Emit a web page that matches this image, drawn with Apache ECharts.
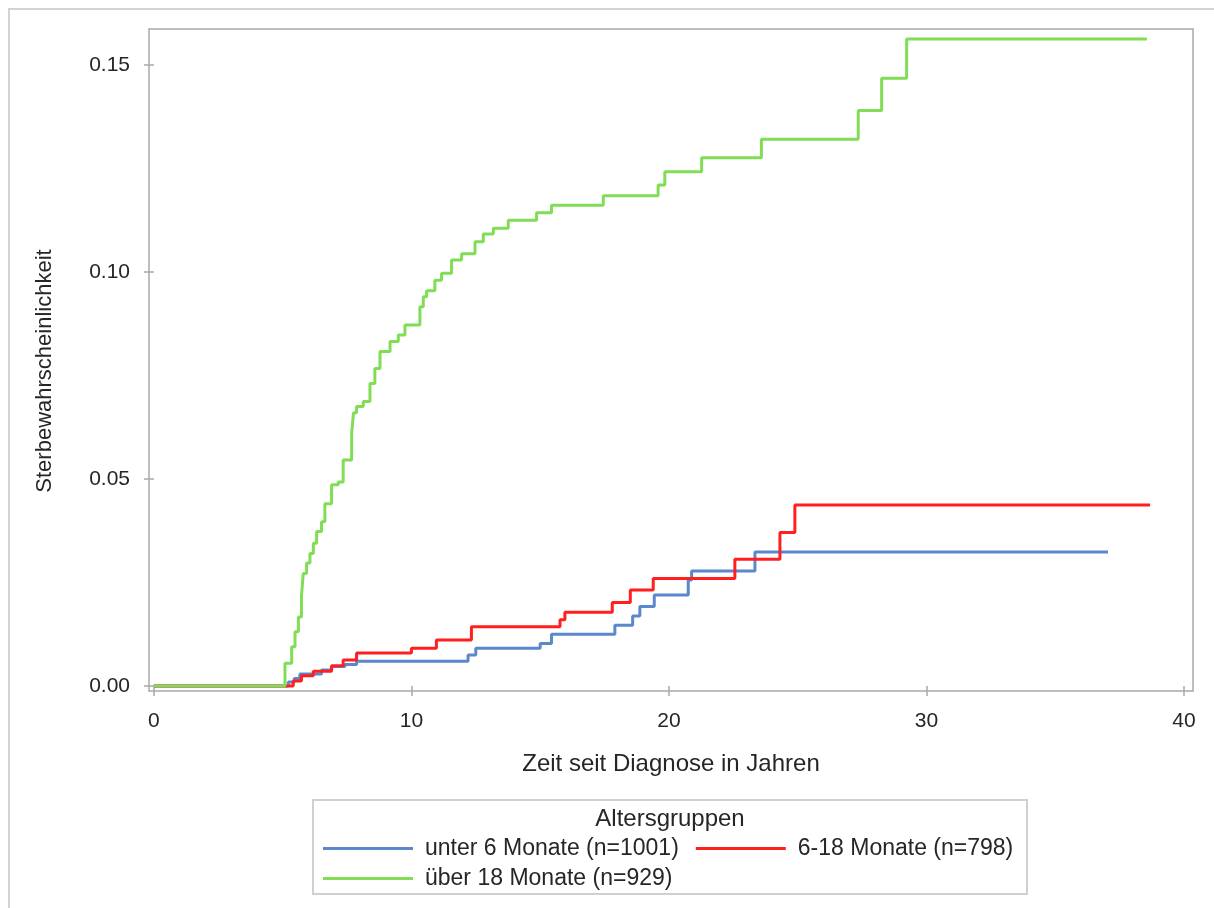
<!DOCTYPE html>
<html>
<head>
<meta charset="utf-8">
<script src="https://cdn.jsdelivr.net/npm/echarts@6/dist/echarts.min.js"></script>
<style>
  html, body { margin: 0; padding: 0; background: #fff; }
  #chart { width: 1214px; height: 908px; }
</style>
</head>
<body>
<div id="chart"></div>
<script>
// Cumulative death probability by age group, [years since diagnosis, probability]
const groupNames = ['unter 6 Monate (n=1001)', '6-18 Monate (n=798)', 'über 18 Monate (n=929)'];

const under6 = [
  [0, 0], [5.22, 0.001], [5.45, 0.0018], [5.67, 0.0029], [6.51, 0.0039],
  [6.9, 0.0047], [7.42, 0.0052], [7.87, 0.006], [12.2, 0.0075], [12.5, 0.0091],
  [15.0, 0.0103], [15.44, 0.0125], [17.9, 0.0147], [18.59, 0.0169], [18.87, 0.0192],
  [19.43, 0.022], [20.75, 0.0256], [20.88, 0.0278], [23.34, 0.0324], [37.05, 0.0324]
];

const from6to18 = [
  [0, 0], [5.41, 0.0012], [5.73, 0.0025], [6.19, 0.0036], [6.9, 0.0049],
  [7.35, 0.0063], [7.87, 0.008], [10.0, 0.0091], [10.97, 0.0111], [12.33, 0.0143],
  [15.77, 0.016], [15.96, 0.0178], [17.8, 0.0202], [18.5, 0.0232], [19.39, 0.026],
  [22.56, 0.0306], [24.31, 0.0371], [24.89, 0.0437], [38.68, 0.0437]
];

const over18 = [
  [0, 0], [5.09, 0.0055], [5.35, 0.0095], [5.48, 0.0131], [5.61, 0.0167],
  [5.73, 0.0216], [5.8, 0.0272], [5.93, 0.0297], [6.06, 0.032], [6.19, 0.0345],
  [6.32, 0.0373], [6.51, 0.0397], [6.64, 0.044], [6.9, 0.0486], [7.16, 0.0493],
  [7.35, 0.0546], [7.68, 0.061], [7.75, 0.066], [7.87, 0.0675], [8.13, 0.0687],
  [8.39, 0.0731], [8.58, 0.0767], [8.78, 0.0808], [9.17, 0.0832], [9.49, 0.0848],
  [9.75, 0.0872], [10.33, 0.0916], [10.46, 0.094], [10.59, 0.0955], [10.91, 0.098],
  [11.17, 0.0997], [11.56, 0.1029], [11.95, 0.1044], [12.47, 0.1073], [12.79, 0.1092],
  [13.18, 0.1106], [13.76, 0.1125], [14.86, 0.1143], [15.44, 0.1161], [17.45, 0.1184],
  [19.58, 0.121], [19.84, 0.1242], [21.27, 0.1276], [23.59, 0.1321], [27.35, 0.139],
  [28.26, 0.1468], [29.23, 0.1563], [38.56, 0.1563]
];

const xTicks = [0, 10, 20, 30, 40];
const yTicks = [0, 0.05, 0.10, 0.15];

const FONT = '"Liberation Sans", Arial, sans-serif';
const TEXT = '#262626';
const FRAME = '#a6aaaf';
const colors = ['#5a88cc', '#ff1f1f', '#80dd55'];

const chart = echarts.init(document.getElementById('chart'), null, { renderer: 'canvas' });

function stepSeries(name, data, color) {
  return {
    name: name,
    type: 'line',
    step: 'end',
    data: data,
    showSymbol: false,
    symbol: 'none',
    silent: true,
    lineStyle: { color: color, width: 3 },
    itemStyle: { color: color },
    animation: false
  };
}

const legendCommon = {
  orient: 'horizontal',
  icon: 'rect',
  itemWidth: 90,
  itemHeight: 3,
  itemGap: 17,
  selectedMode: false,
  padding: 0,
  textStyle: { fontFamily: FONT, fontSize: 23, color: TEXT, padding: [0, 0, 0, 7] }
};

chart.setOption({
  backgroundColor: '#fff',
  animation: false,
  grid: {
    left: 149, top: 29, right: 21, bottom: 217,
    show: true, borderColor: FRAME, borderWidth: 1.5, backgroundColor: 'transparent'
  },
  xAxis: {
    type: 'value',
    min: -0.19, max: 40.35,
    name: 'Zeit seit Diagnose in Jahren',
    nameLocation: 'middle',
    nameGap: 61,
    nameTextStyle: { fontFamily: FONT, fontSize: 24, color: TEXT },
    axisLine: { show: false },
    splitLine: { show: false },
    axisTick: { show: true, customValues: xTicks, length: 10, lineStyle: { color: FRAME, width: 1.5 } },
    axisLabel: { customValues: xTicks, margin: 20, fontFamily: FONT, fontSize: 21, color: TEXT,
      formatter: v => String(Math.round(v)) }
  },
  yAxis: {
    type: 'value',
    min: -0.0012, max: 0.1587,
    axisLine: { show: false },
    splitLine: { show: false },
    axisTick: { show: true, customValues: yTicks, length: 10, lineStyle: { color: FRAME, width: 1.5 } },
    axisLabel: { customValues: yTicks, margin: 19, fontFamily: FONT, fontSize: 21, color: TEXT,
      formatter: v => v.toFixed(2) }
  },
  legend: [
    Object.assign({}, legendCommon, { data: [groupNames[0], groupNames[1]], left: 323, top: 837 }),
    Object.assign({}, legendCommon, { data: [groupNames[2]], left: 323, top: 867 })
  ],
  graphic: [
    { type: 'rect', silent: true, shape: { x: 9, y: 9, width: 1240, height: 940 },
      style: { fill: 'none', stroke: '#d2d2d2', lineWidth: 2 } },
    { type: 'rect', silent: true, shape: { x: 313, y: 800, width: 714, height: 94 },
      style: { fill: 'none', stroke: '#d0d0d0', lineWidth: 2 } },
    { type: 'text', silent: true, x: 670, y: 819,
      style: { text: 'Altersgruppen', fontFamily: FONT, fontSize: 24, fill: TEXT,
        textAlign: 'center', textVerticalAlign: 'middle' } },
    // y-axis title, rotated
    { type: 'text', silent: true, x: 45, y: 371, rotation: Math.PI / 2,
      style: { text: 'Sterbewahrscheinlichkeit', fontFamily: FONT, fontSize: 22, fill: TEXT,
        textAlign: 'center', textVerticalAlign: 'middle' } }
  ],
  series: [
    stepSeries(groupNames[0], under6, colors[0]),
    stepSeries(groupNames[1], from6to18, colors[1]),
    stepSeries(groupNames[2], over18, colors[2])
  ]
});
</script>
</body>
</html>
